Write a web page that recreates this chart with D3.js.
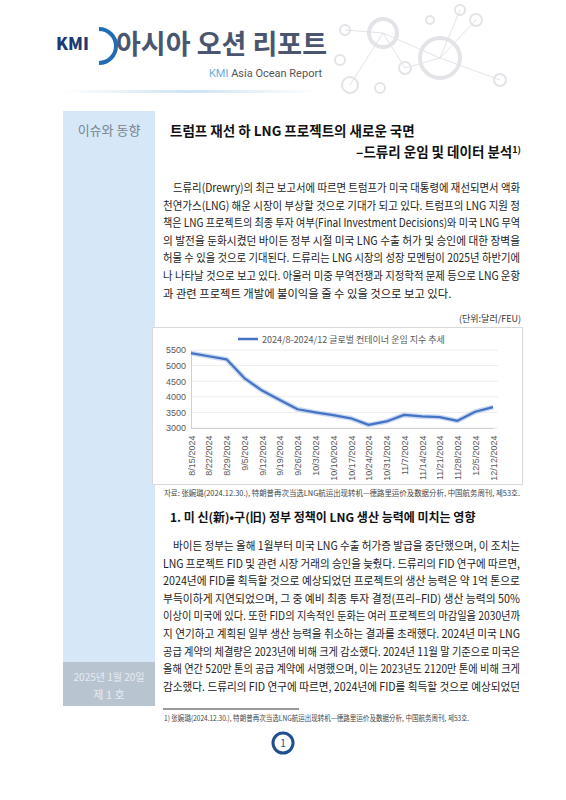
<!DOCTYPE html>
<html><head><meta charset="utf-8">
<script src="https://cdn.jsdelivr.net/npm/d3@7"></script>
<style>body{margin:0;background:#fff}svg{display:block}</style>
</head><body>
<script>
// chart data
var dates = ["8/15/2024","8/22/2024","8/29/2024","9/5/2024","9/12/2024","9/19/2024","9/26/2024","10/3/2024","10/10/2024","10/17/2024","10/24/2024","10/31/2024","11/7/2024","11/14/2024","11/21/2024","11/28/2024","12/5/2024","12/12/2024"];
var rates = [5400,5300,5200,4600,4200,3900,3600,3500,3410,3310,3100,3210,3420,3370,3350,3230,3520,3670];
var yTicks = [3000,3500,4000,4500,5000,5500];
var legendLabel = "2024/8-2024/12 글로벌 컨테이너 운임 지수 추세";

var para1 = [
  "드류리(Drewry)의 최근 보고서에 따르면 트럼프가 미국 대통령에 재선되면서 액화",
  "천연가스(LNG) 해운 시장이 부상할 것으로 기대가 되고 있다. 트럼프의 LNG 지원 정",
  "책은 LNG 프로젝트의 최종 투자 여부(Final Investment Decisions)와 미국 LNG 무역",
  "의 발전을 둔화시켰던 바이든 정부 시절 미국 LNG 수출 허가 및 승인에 대한 장벽을",
  "허물 수 있을 것으로 기대된다. 드류리는 LNG 시장의 성장 모멘텀이 2025년 하반기에",
  "나 나타날 것으로 보고 있다. 아울러 미중 무역전쟁과 지정학적 문제 등으로 LNG 운항",
  "과 관련 프로젝트 개발에 불이익을 줄 수 있을 것으로 보고 있다."
];
var para2 = [
  "바이든 정부는 올해 1월부터 미국 LNG 수출 허가증 발급을 중단했으며, 이 조치는",
  "LNG 프로젝트 FID 및 관련 시장 거래의 승인을 늦췄다. 드류리의 FID 연구에 따르면,",
  "2024년에 FID를 획득할 것으로 예상되었던 프로젝트의 생산 능력은 약 1억 톤으로",
  "부득이하게 지연되었으며, 그 중 예비 최종 투자 결정(프리–FID) 생산 능력의 50%",
  "이상이 미국에 있다. 또한 FID의 지속적인 둔화는 여러 프로젝트의 마감일을 2030년까",
  "지 연기하고 계획된 일부 생산 능력을 취소하는 결과를 초래했다. 2024년 미국 LNG",
  "공급 계약의 체결량은 2023년에 비해 크게 감소했다. 2024년 11월 말 기준으로 미국은",
  "올해 연간 520만 톤의 공급 계약에 서명했으며, 이는 2023년도 2120만 톤에 비해 크게",
  "감소했다. 드류리의 FID 연구에 따르면, 2024년에 FID를 획득할 것으로 예상되었던"
];
var sourceText = "자료: 张婉璐(2024.12.30.), 特朗普再次当选LNG航运出现转机—德路里运价及数据分析, 中国航务周刊, 제53호.";
var footText = "1) 张婉璐(2024.12.30.), 特朗普再次当选LNG航运出现转机—德路里运价及数据分析, 中国航务周刊, 제53호.";

var W = 566, H = 800;
var font = "'Noto Sans CJK KR', 'Noto Sans', sans-serif";
var svg = d3.select("body").append("svg").attr("width", W).attr("height", H)
  .style("font-family", font);

// header decoration (faint network circles)
var deco = svg.append("g").attr("fill", "none").attr("stroke", "#e2e4e8");
[[383,33,14],[440,58,20],[476,20,6],[350,85,8],[405,68,6],[345,30,5],[500,80,6],[460,10,5],[430,20,4],[380,88,5],[340,60,5]].forEach(function(c){
  deco.append("circle").attr("cx", c[0]).attr("cy", c[1]).attr("r", c[2]).attr("stroke-width", c[2] > 10 ? 4 : 2);
});
deco.append("path").attr("d","M345,30L383,33L440,58L476,20M383,33L405,68L440,58L500,80M350,85L383,33M440,58L460,10").attr("stroke-width",1);

// logo
svg.append("text").attr("x", 56).attr("y", 50).attr("font-size", 17).attr("font-weight", 900)
  .attr("fill", "#1d3b73").text("KMI");
svg.append("path").attr("d", "M99,29 A17,17 0 0 1 99,63").attr("fill","none").attr("stroke","#1f6db5").attr("stroke-width",4);
svg.append("text").attr("x", 116).attr("y", 54).attr("font-size", 27).attr("font-weight", 700)
  .attr("fill", "#4a5670").text("아시아 오션 리포트");
var sub = svg.append("text").attr("x", 322).attr("y", 77).attr("text-anchor", "end")
  .attr("font-size", 11).attr("font-family", "Roboto, sans-serif");
sub.append("tspan").attr("fill", "#6ab0e0").text("KMI ");
sub.append("tspan").attr("fill", "#555").text("Asia Ocean Report");
var grad = svg.append("defs").append("linearGradient").attr("id", "hl");
grad.append("stop").attr("offset", "0").attr("stop-color", "#fff");
grad.append("stop").attr("offset", "0.5").attr("stop-color", "#cfe3f3");
grad.append("stop").attr("offset", "1").attr("stop-color", "#fff");
svg.append("rect").attr("x", 60).attr("y", 90).attr("width", 260).attr("height", 3).attr("fill", "url(#hl)");

// sidebar
svg.append("rect").attr("x", 63).attr("y", 111).attr("width", 92).attr("height", 551).attr("fill", "#d6e8f8");
svg.append("rect").attr("x", 63).attr("y", 662).attr("width", 92).attr("height", 44).attr("fill", "#b8c5d1");
svg.append("text").attr("x", 109).attr("y", 135).attr("text-anchor", "middle").attr("font-size", 13)
  .attr("fill", "#7a8490").text("이슈와 동향");
svg.append("text").attr("x", 109).attr("y", 681).attr("text-anchor", "middle").attr("font-size", 10)
  .attr("fill", "#e6ebf0").text("2025년 1월 20일");
svg.append("text").attr("x", 109).attr("y", 699).attr("text-anchor", "middle").attr("font-size", 11)
  .attr("fill", "#e6ebf0").text("제 1 호");

// title
svg.append("text").attr("x", 170).attr("y", 136).attr("font-size", 13.5).attr("font-weight", 700)
  .attr("fill", "#111").text("트럼프 재선 하 LNG 프로젝트의 새로운 국면");
var t2 = svg.append("text").attr("x", 521).attr("y", 157).attr("text-anchor", "end").attr("font-size", 13.5)
  .attr("font-weight", 700).attr("fill", "#111");
t2.append("tspan").text("–드류리 운임 및 데이터 분석");
t2.append("tspan").attr("font-size", 9).attr("dy", -4).text("1)");

function para(lines, y0, step, lastFull) {
  lines.forEach(function(s, i) {
    var indent = i === 0 ? 10 : 0;
    var t = svg.append("text").attr("x", 163 + indent).attr("y", y0 + i * step)
      .attr("font-size", 11.3).attr("fill", "#222").text(s);
    if (lastFull || i < lines.length - 1) t.attr("textLength", 357 - indent).attr("lengthAdjust", "spacingAndGlyphs");
  });
}
para(para1, 192, 17.6, false);
svg.append("text").attr("x", 521).attr("y", 322).attr("text-anchor", "end").attr("font-size", 9)
  .attr("fill", "#333").text("(단위:달러/FEU)");

// chart box
svg.append("rect").attr("x", 152.5).attr("y", 327.5).attr("width", 370).attr("height", 157)
  .attr("fill", "#fff").attr("stroke", "#d9d9d9");

var x = d3.scalePoint().domain(dates).range([191, 493]);
var y = d3.scaleLinear().domain([3000, 5500]).range([428, 350]);
var g = svg.append("g").attr("font-family", "'Liberation Sans', Arial, sans-serif");

g.selectAll("line.grid").data(yTicks).join("line").attr("class", "grid")
  .attr("x1", 191).attr("x2", 498).attr("y1", function(d){return y(d);}).attr("y2", function(d){return y(d);})
  .attr("stroke", "#eeeeee");

var ya = g.append("g").attr("transform", "translate(191,0)")
  .call(d3.axisLeft(y).tickValues(yTicks).tickFormat(d3.format("d")).tickSize(0).tickPadding(5));
ya.select(".domain").attr("stroke", "#d0d0d0");
ya.selectAll("text").attr("font-size", 9).attr("fill", "#595959");

var xa = g.append("g").attr("transform", "translate(0,428)")
  .call(d3.axisBottom(x).tickSize(0).tickPadding(4));
xa.select(".domain").attr("stroke", "#d0d0d0");
xa.selectAll("text").attr("font-size", 9).attr("fill", "#595959")
  .attr("text-anchor", "end").attr("dx", "-0.4em").attr("dy", "0.35em")
  .attr("x", 0).attr("y", 0)
  .attr("transform", "translate(0,4) rotate(-90)");

var line = d3.line().x(function(d, i){ return x(dates[i]); }).y(function(d){ return y(d); });
g.append("path").datum(rates).attr("d", line).attr("fill", "none").attr("stroke", "#a9c1e6")
  .attr("stroke-width", 5).attr("stroke-linejoin", "round").attr("opacity", 0.6);
g.append("path").datum(rates).attr("d", line).attr("fill", "none").attr("stroke", "#4472c4")
  .attr("stroke-width", 2.2).attr("stroke-linejoin", "round");

g.append("line").attr("x1", 238).attr("x2", 258).attr("y1", 339).attr("y2", 339)
  .attr("stroke", "#4472c4").attr("stroke-width", 2.5);
g.append("text").attr("x", 262).attr("y", 342.5).attr("font-size", 9).attr("fill", "#595959")
  .attr("font-family", font).text(legendLabel);

// source, heading, body
svg.append("text").attr("x", 164).attr("y", 496).attr("font-size", 7.5).attr("fill", "#444")
  .attr("textLength", 356).attr("lengthAdjust", "spacingAndGlyphs").text(sourceText);
svg.append("text").attr("x", 170).attr("y", 522).attr("font-size", 12).attr("font-weight", 700)
  .attr("fill", "#111").text("1. 미 신(新)•구(旧) 정부 정책이 LNG 생산 능력에 미치는 영향");
para(para2, 550, 17.6, true);

svg.append("line").attr("x1", 163).attr("x2", 299).attr("y1", 709).attr("y2", 709).attr("stroke", "#333");
svg.append("text").attr("x", 164).attr("y", 721).attr("font-size", 7.5).attr("fill", "#444")
  .attr("textLength", 305).attr("lengthAdjust", "spacingAndGlyphs").text(footText);

// page number
svg.append("circle").attr("cx", 283).attr("cy", 743).attr("r", 10).attr("fill", "#fff")
  .attr("stroke", "#1f4f8f").attr("stroke-width", 3);
svg.append("text").attr("x", 283).attr("y", 747).attr("text-anchor", "middle").attr("font-size", 10)
  .attr("fill", "#1f4f8f").text("1");
</script>
</body></html>
